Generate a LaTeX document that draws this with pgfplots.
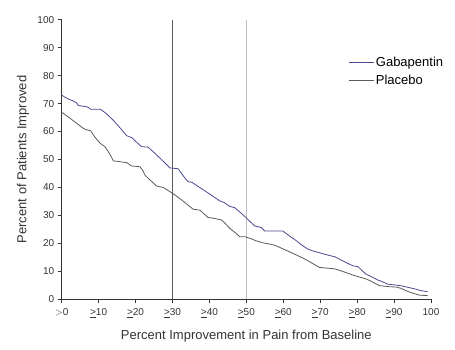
\documentclass[border=0pt]{standalone}
\usepackage{fontspec}
\setmainfont{Liberation Sans}
\usepackage{pgfplots}
\pgfplotsset{compat=1.18}
\definecolor{gaba}{HTML}{4A4A90}
\definecolor{plac}{HTML}{5A5A5A}
\definecolor{axc}{HTML}{333333}
\begin{document}
\begin{tikzpicture}
\begin{axis}[
  scale only axis,
  width=369.3pt, height=279.6pt,
  xmin=0, xmax=100, ymin=0, ymax=100,
  axis lines=left,
  axis line style={axc, line width=0.8pt, -},
  tick style={axc, line width=0.6pt},
  tick align=outside,
  major tick length=4pt,
  xtick={0,10,...,100},
  xticklabels={{$>$0},{\underline{>}10},{\underline{>}20},{\underline{>}30},{\underline{>}40},{\underline{>}50},{\underline{>}60},{\underline{>}70},{\underline{>}80},{\underline{>}90},100},
  ytick={0,10,...,100},
  /pgf/number format/assume math mode=true,
  tick label style={font=\fontsize{10}{12}\selectfont, text=axc},
  xticklabel style={yshift=-2pt},
  xlabel={Percent Improvement in Pain from Baseline},
  ylabel={Percent of Patients Improved},
  label style={font=\fontsize{13}{15}\selectfont, text=axc},
  xlabel style={at={(axis description cs:0.5,0)}, anchor=center, yshift=-37pt},
  ylabel style={at={(axis description cs:-0.105,0.5)}, anchor=center, rotate=0},
  legend style={at={(0.775,0.875)}, anchor=north west, draw=none, fill=none,
    font=\fontsize{13}{15}\selectfont, row sep=3pt, inner sep=0pt},
  legend cell align=left,
  legend image code/.code={\draw[#1] (0pt,0pt) -- (25pt,0pt);},
  clip=false,
]
\addplot[plac, line width=0.6pt, forget plot] coordinates {(30,0) (30,100)};
\addplot[gray!50, line width=0.8pt, forget plot] coordinates {(50,0) (50,100)};
\addplot[gaba, line width=0.8pt] coordinates {
(0,73.0) (1,72.2) (2,71.5) (3,71.0) (4,70.3) (4.5,69.3) (6,69.0) (7,68.8) (7.8,68.0) (10.5,68.0)
(12,66.5) (14,64.0) (16,61.0) (17.6,58.5) (19,57.8) (20,56.5) (21.6,54.6) (23.4,54.4) (25,52.5)
(27,50.0) (29.3,47.0) (31.5,46.7) (33,44.0) (34.2,42.1) (35.3,41.8) (37,40.3) (39,38.6) (41,36.8)
(42.8,35.2) (44,34.6) (45.5,33.2) (46.8,32.8) (48,31.5) (49.6,29.6) (51,27.8) (52.3,26.2) (54,25.7)
(55,24.4) (59.9,24.4) (61.5,22.8) (63.5,21.0) (65,19.4) (66.6,18.0) (68,17.3) (69.4,16.8) (71,16.2)
(73,15.5) (74,15.2) (76,13.8) (78.8,12.0) (80.2,11.7) (81.3,10.3) (82.4,9.0) (84,8.0) (85.6,6.9)
(87,6.2) (88.3,5.4) (90.5,5.1) (92,4.8) (95,3.9) (96,3.6) (97.3,3.1) (99.1,2.7)
};
\addlegendentry{Gabapentin}
\addplot[plac, line width=0.8pt] coordinates {
(0,66.9) (2,65.0) (4,63.0) (6,61.0) (6.8,60.6) (7.8,60.3) (9,58.0) (10.4,55.8) (11.7,54.6) (13,52.0)
(14,49.5) (17.6,48.9) (18.9,47.7) (21.2,47.4) (22,46.0) (22.5,44.5) (23.4,43.3) (25.7,40.5) (27.5,40.0)
(29.3,38.5) (31,37.0) (33,35.0) (35.6,32.2) (37.4,31.9) (38.3,30.8) (39.6,29.3) (41,29.0) (43.2,28.4)
(44,27.5) (45.5,25.4) (47,23.8) (48.2,22.4) (49.6,22.4) (51,21.8) (52.5,21.0) (54.5,20.2) (57.6,19.4)
(60,18.0) (63,16.2) (66,14.3) (69.8,11.4) (73.9,10.9) (76,10.0) (78.8,8.7) (80.5,8.0) (82.4,7.3)
(84,6.3) (86,4.9) (88.7,4.5) (90.5,4.4) (91.9,3.9) (93,3.2) (94.6,2.4) (96.8,1.5) (99.1,1.3)
};
\addlegendentry{Placebo}
\end{axis}
\pgfresetboundingbox
\path ([shift={(-61.7pt,-50pt)}]current axis.south west) rectangle ([shift={(24pt,19.7pt)}]current axis.north east);
\end{tikzpicture}
\end{document}
